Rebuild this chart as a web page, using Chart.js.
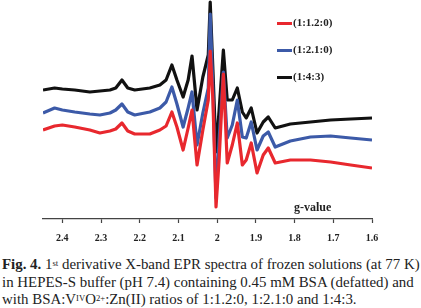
<!DOCTYPE html>
<html>
<head>
<meta charset="utf-8">
<script src="https://cdn.jsdelivr.net/npm/chart.js@4.4.1/dist/chart.umd.min.js"></script>
<style>
  body { margin: 0; background: #fff; }
  #wrap { position: relative; width: 421px; height: 308px; overflow: hidden; font-family: "Liberation Serif", "Times New Roman", Tinos, "DejaVu Serif", serif; }
  #chart { position: absolute; left: 0; top: 0; }
  .leg { position: absolute; left: 277px; height: 14px; font-weight: bold; font-size: 11px; color: #222; white-space: nowrap; }
  .leg span.sw { display: inline-block; width: 15px; height: 2.5px; vertical-align: middle; margin-right: 1px; }
  #gval { position: absolute; left: 294px; top: 200px; font-weight: bold; font-size: 12px; color: #222; }
  #cap { position: absolute; left: 2px; top: 256px; font-family: "Liberation Serif", "Times New Roman", serif; font-size: 15px; line-height: 17.5px; color: #222; white-space: nowrap; }
  #cap div { display: table; }
  #cap sup { font-size: 0.58em; line-height: 0; vertical-align: 0.4em; }
</style>
</head>
<body>
<div id="wrap">
  <canvas id="chart" width="421" height="253"></canvas>
  <div id="legend"></div>
  <div id="gval">g-value</div>
  <div id="cap">
    <div id="cap1"><b>Fig. 4.</b> 1<sup>st</sup> derivative X-band EPR spectra of frozen solutions (at 77 K)</div>
    <div>in HEPES-S buffer (pH 7.4) containing 0.45 mM BSA (defatted) and</div>
    <div>with BSA:V<sup>IV</sup>O<sup>2+</sup>:Zn(II) ratios of 1:1.2:0, 1:2.1:0 and 1:4:3.</div>
  </div>
</div>
<script>
// g-values (x) shared by all spectra
var gValues = [2.45, 2.42, 2.40, 2.368, 2.329, 2.303, 2.277, 2.262, 2.246, 2.231, 2.213,
  2.174, 2.148, 2.132, 2.117, 2.104, 2.088, 2.075, 2.065, 2.052, 2.037, 2.023, 2.018,
  2.011, 2.003, 1.995, 1.984, 1.974, 1.961, 1.948, 1.935, 1.925, 1.912, 1.897, 1.881,
  1.868, 1.850, 1.811, 1.759, 1.707, 1.655, 1.60];

// signal intensity (arb. units, vertically offset spectra)
var red121 = [89, 93, 94, 92, 89, 86, 88, 90, 96, 88, 85,
  85, 89, 93, 107, 92, 69, 91, 109, 54, 89, 119, 168,
  119, 12, 59, 145, 56, 74, 96, 54, 59, 76, 46, 64,
  71, 56, 59, 59, 57, 54, 51];
var blue210 = [106, 111, 109, 107, 105, 104, 106, 109, 115, 107, 104,
  107, 111, 117, 132, 115, 92, 111, 127, 74, 106, 131, 205,
  129, 21, 79, 147, 81, 94, 119, 82, 81, 97, 69, 83,
  87, 72, 78, 82, 83, 81, 79];
var black143 = [129, 131, 130, 129, 127, 128, 129, 131, 139, 131, 129,
  131, 134, 139, 154, 139, 122, 139, 163, 109, 142, 164, 217,
  149, 67, 109, 169, 119, 119, 131, 107, 101, 111, 86, 97,
  102, 91, 95, 97, 99, 100, 101];

var seriesLabels = ['(1:1.2:0)', '(1:2.1:0)', '(1:4:3)'];
var seriesColors = ['#e8282e', '#3c5aa8', '#111111'];
var tickValues = [2.4, 2.3, 2.2, 2.1, 2.0, 1.9, 1.8, 1.7, 1.6];
var serif = '"Liberation Serif", "Times New Roman", Tinos, "DejaVu Serif", serif';

function pts(ys){
    var out = [];
    for (var i = 0; i < gValues.length; i++) out.push({x: gValues[i], y: ys[i]});
    return out;
}

var allSeries = [red121, blue210, black143];
var datasets = allSeries.map(function(ys, i){
    return {
        label: seriesLabels[i],
        data: pts(ys),
        borderColor: seriesColors[i],
        borderWidth: 3.2,
        borderJoinStyle: 'round',
        pointRadius: 0,
        tension: 0,
        fill: false
    };
});

// html legend
var leg = document.getElementById('legend');
var legTop = [16, 43, 70];
seriesLabels.forEach(function(l, i){
    var d = document.createElement('div');
    d.className = 'leg';
    d.style.top = legTop[i] + 'px';
    d.innerHTML = '<span class="sw" style="background:' + seriesColors[i] + '"></span>' + l;
    leg.appendChild(d);
});

// caption: first line should span about 418px
var cap = document.getElementById('cap');
var w1 = document.getElementById('cap1').getBoundingClientRect().width;
cap.style.fontSize = (15 * 418 / w1).toFixed(2) + 'px';

var ctx = document.getElementById('chart').getContext('2d');
new Chart(ctx, {
    type: 'line',
    data: { datasets: datasets },
    options: {
        responsive: false,
        animation: false,
        layout: { padding: { left: 43, right: 49, top: 0, bottom: 0 } },
        plugins: { legend: { display: false }, tooltip: { enabled: false } },
        scales: {
            x: {
                type: 'linear',
                reverse: true,
                min: 1.6,
                max: 2.45,
                afterBuildTicks: function(axis){
                    axis.ticks = tickValues.map(function(v){ return {value: v}; });
                },
                border: { color: '#444', width: 1.3 },
                grid: { drawOnChartArea: false, tickLength: 4, tickColor: '#444', tickWidth: 1.2 },
                ticks: {
                    padding: 9,
                    maxRotation: 0,
                    autoSkip: false,
                    color: '#222',
                    font: { family: serif, size: 10, weight: 'bold' },
                    callback: function(v){ return String(+(+v).toFixed(1)); }
                }
            },
            y: { display: false, min: 0, max: 219 }
        }
    }
});
</script>
</body>
</html>
